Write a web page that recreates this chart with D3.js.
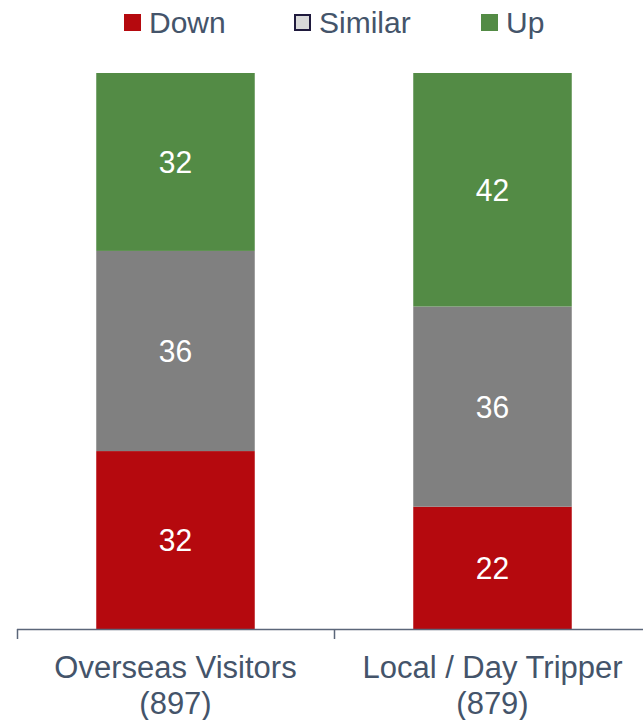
<!DOCTYPE html>
<html>
<head>
<meta charset="utf-8">
<script src="https://cdn.jsdelivr.net/npm/d3@7"></script>
<style>
  html, body { margin: 0; padding: 0; background: #ffffff; }
  svg { display: block; font-family: "Liberation Sans", Arial, sans-serif; }
</style>
</head>
<body>
<svg id="chart" width="643" height="720"></svg>
<script>
// Share of respondents (%) by visitor type
const categories = ["Overseas Visitors", "Local / Day Tripper"];
const sampleSizes = ["(897)", "(879)"];
const seriesNames = ["Down", "Similar", "Up"];
const downValues = [32, 22];
const similarValues = [36, 36];
const upValues = [32, 42];

const colors = { Down: "#B5090E", Similar: "#808080", Up: "#538B45" };
const legendFill = { Down: "#B5090E", Similar: "#D9D9D9", Up: "#538B45" };
const textColor = "#44546A";
const axisColor = "#5B6679";

const svg = d3.select("#chart");

const margin = { top: 73, bottom: 91, left: 17, right: -8 };
const width = 643, height = 720;

const rows = categories.map((c, i) => ({
  category: c,
  Down: downValues[i],
  Similar: similarValues[i],
  Up: upValues[i]
}));

const stacked = d3.stack().keys(seriesNames)(rows);

const x = d3.scaleBand()
  .domain(categories)
  .range([margin.left, width - margin.right])
  .paddingInner(0)
  .paddingOuter(0);

const y = d3.scaleLinear()
  .domain([0, 100])
  .range([height - margin.bottom, margin.top]);

const barW = x.bandwidth() * 0.5;
const barOffset = (x.bandwidth() - barW) / 2;

// Stacked bars
const layers = svg.append("g")
  .selectAll("g")
  .data(stacked)
  .join("g")
  .attr("fill", d => colors[d.key]);

layers.selectAll("rect")
  .data(d => d.map(p => ({ key: d.key, p })))
  .join("rect")
  .attr("x", d => x(d.p.data.category) + barOffset)
  .attr("width", barW)
  .attr("y", d => y(d.p[1]))
  .attr("height", d => y(d.p[0]) - y(d.p[1]));

// Value labels inside segments
layers.selectAll("text")
  .data(d => d.map(p => ({ key: d.key, p })))
  .join("text")
  .attr("transform", d => {
    const cx = x(d.p.data.category) + x.bandwidth() / 2;
    const cy = (y(d.p[0]) + y(d.p[1])) / 2 + 11;
    return `translate(${cx},${cy}) scale(1,1.06)`;
  })
  .attr("text-anchor", "middle")
  .attr("fill", "#ffffff")
  .attr("font-size", 30)
  .text(d => d.p[1] - d.p[0]);

// Category axis with ticks at band boundaries
const axisY = y(0);
const axisG = svg.append("g");
axisG.append("line")
  .attr("x1", x.range()[0])
  .attr("x2", x.range()[1])
  .attr("y1", axisY + 0.5)
  .attr("y2", axisY + 0.5)
  .attr("stroke", axisColor)
  .attr("stroke-width", 1.5);

const boundaries = categories.map(c => x(c)).concat([x.range()[1]]);
axisG.selectAll("line.tick")
  .data(boundaries)
  .join("line")
  .attr("class", "tick")
  .attr("x1", d => d + 0.5)
  .attr("x2", d => d + 0.5)
  .attr("y1", axisY)
  .attr("y2", axisY + 10)
  .attr("stroke", axisColor)
  .attr("stroke-width", 1.5);

// Two-line category labels: name, then sample size
const labels = axisG.selectAll("text.cat")
  .data(categories)
  .join("text")
  .attr("class", "cat")
  .attr("text-anchor", "middle")
  .attr("fill", textColor)
  .attr("font-size", 31);

labels.append("tspan")
  .attr("x", d => x(d) + x.bandwidth() / 2)
  .attr("y", axisY + 49)
  .text(d => d);

labels.append("tspan")
  .attr("x", d => x(d) + x.bandwidth() / 2)
  .attr("y", axisY + 85)
  .text((d, i) => sampleSizes[i]);

// Legend
const legendX = { Down: 124, Similar: 294, Up: 481 };
const legend = svg.append("g")
  .selectAll("g")
  .data(seriesNames)
  .join("g")
  .attr("transform", d => `translate(${legendX[d]},14)`);

legend.append("rect")
  .attr("x", d => d === "Similar" ? 1 : 0)
  .attr("y", d => d === "Similar" ? 1 : 0)
  .attr("width", d => d === "Similar" ? 15 : 17)
  .attr("height", d => d === "Similar" ? 15 : 17)
  .attr("fill", d => legendFill[d])
  .attr("stroke", d => d === "Similar" ? "#1F1A3D" : "none")
  .attr("stroke-width", 2);

legend.append("text")
  .attr("x", 25)
  .attr("y", 19)
  .attr("fill", textColor)
  .attr("font-size", 30)
  .text(d => d);
</script>
</body>
</html>
